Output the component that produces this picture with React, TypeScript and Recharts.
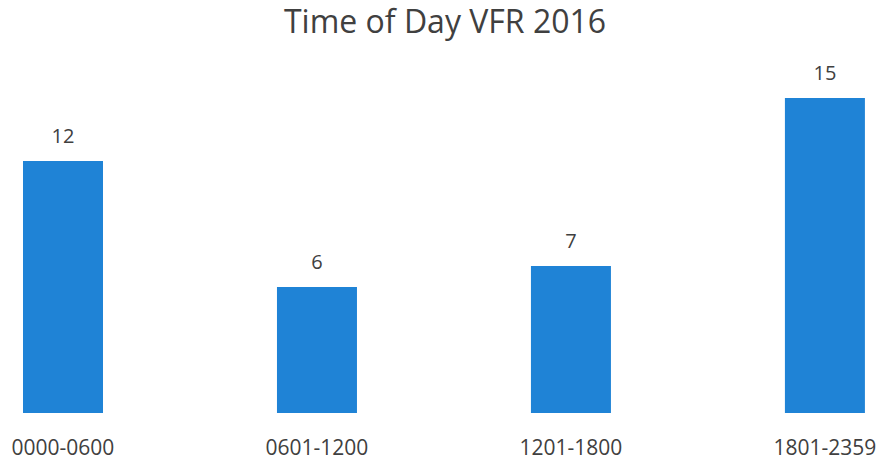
import { Bar, BarChart, LabelList, XAxis, YAxis } from 'recharts'

// time slots and VFR counts
const timeSlots = ['0000-0600', '0601-1200', '1201-1800', '1801-2359']
const slotIndex = [0, 1, 2, 3]
const vfrCounts = [12, 6, 7, 15]

const chartData = timeSlots.map((slot, i) => ({
  slot,
  idx: slotIndex[i],
  count: vfrCounts[i],
}))

const FONT = '"Open Sans", sans-serif'
const TEXT = '#404040'

export default function App() {
  return (
    <div
      style={{
        position: 'absolute',
        left: 0,
        top: 0,
        width: 879,
        height: 460,
        background: '#fff',
        fontFamily: FONT,
      }}
    >
      <div
        style={{
          position: 'absolute',
          top: 5,
          left: 445,
          transform: 'translateX(-50%)',
          fontSize: 32,
          lineHeight: '32px',
          color: TEXT,
          whiteSpace: 'nowrap',
        }}
      >
        Time of Day VFR 2016
      </div>
      <BarChart
        width={879}
        height={460}
        data={chartData}
        margin={{ top: 77, right: 0, left: 0, bottom: 0 }}
      >
        <XAxis
          dataKey="idx"
          type="number"
          domain={[-0.248, 3.213]}
          ticks={slotIndex}
          allowDataOverflow
          axisLine={false}
          tickLine={false}
          tickSize={0}
          tickMargin={27}
          height={47}
          interval={0}
          tickFormatter={(v: number) => timeSlots[v] ?? ''}
          tick={{ fill: TEXT, fontSize: 21, fontFamily: FONT }}
        />
        <YAxis hide domain={[0, 16]} />
        <Bar
          dataKey="count"
          fill="#1f83d6"
          barSize={80}
          isAnimationActive={false}
        >
          <LabelList
            dataKey="count"
            position="top"
            offset={18}
            fill={TEXT}
            fontSize={20}
            fontFamily={FONT}
          />
        </Bar>
      </BarChart>
    </div>
  )
}
